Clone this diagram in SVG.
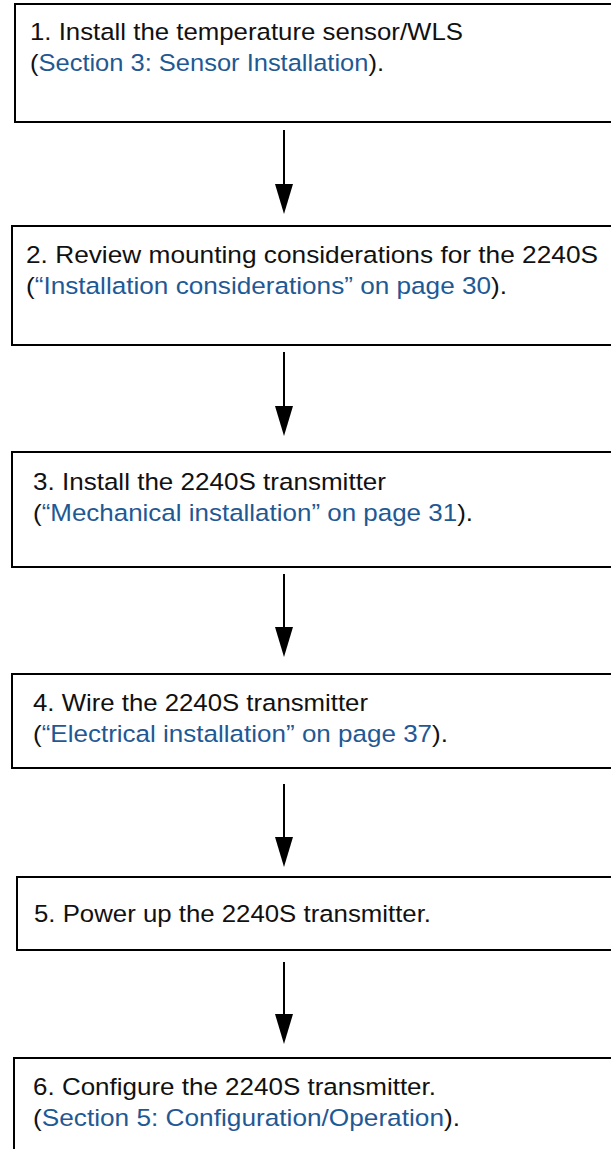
<svg xmlns="http://www.w3.org/2000/svg" width="611" height="1149" viewBox="0 0 611 1149">
<style>
.box{fill:#fff;stroke:#000;stroke-width:2}
.t{font-family:"Liberation Sans",Arial,sans-serif;font-size:24.5px;fill:#111}
.lk{fill:#1f5994}
.con{stroke:#000;stroke-width:2;fill:none}
.head{fill:#000}
</style>
<rect width="611" height="1149" fill="#fff"/>
<g id="connectors">
<line class="con" x1="284" y1="130" x2="284" y2="184"/><path class="head" d="M275 184 L293 184 L284 214 Z"/>
<line class="con" x1="284" y1="352" x2="284" y2="406"/><path class="head" d="M275 406 L293 406 L284 436 Z"/>
<line class="con" x1="284" y1="574" x2="284" y2="627"/><path class="head" d="M275 627 L293 627 L284 657 Z"/>
<line class="con" x1="284" y1="784" x2="284" y2="837"/><path class="head" d="M275 837 L293 837 L284 867 Z"/>
<line class="con" x1="284" y1="962" x2="284" y2="1014"/><path class="head" d="M275 1014 L293 1014 L284 1044 Z"/>
</g>
<g id="step1">
<rect class="box" x="15" y="4" width="610" height="118"/>
<text class="t" x="30" y="40" textLength="433" lengthAdjust="spacingAndGlyphs">1. Install the temperature sensor/WLS</text>
<text class="t" x="30" y="71" textLength="354" lengthAdjust="spacingAndGlyphs">(<tspan class="lk">Section 3: Sensor Installation</tspan>).</text>
</g>
<g id="step2">
<rect class="box" x="12" y="226" width="610" height="119"/>
<text class="t" x="26" y="263" textLength="572" lengthAdjust="spacingAndGlyphs">2. Review mounting considerations for the 2240S</text>
<text class="t" x="26" y="294" textLength="481" lengthAdjust="spacingAndGlyphs">(<tspan class="lk">“Installation considerations” on page 30</tspan>).</text>
</g>
<g id="step3">
<rect class="box" x="12" y="452" width="610" height="115"/>
<text class="t" x="33" y="490" textLength="353" lengthAdjust="spacingAndGlyphs">3. Install the 2240S transmitter</text>
<text class="t" x="33" y="521" textLength="440" lengthAdjust="spacingAndGlyphs">(<tspan class="lk">“Mechanical installation” on page 31</tspan>).</text>
</g>
<g id="step4">
<rect class="box" x="12" y="674" width="610" height="94"/>
<text class="t" x="33" y="711" textLength="335" lengthAdjust="spacingAndGlyphs">4. Wire the 2240S transmitter</text>
<text class="t" x="33" y="742" textLength="415" lengthAdjust="spacingAndGlyphs">(<tspan class="lk">“Electrical installation” on page 37</tspan>).</text>
</g>
<g id="step5">
<rect class="box" x="17" y="877" width="610" height="73"/>
<text class="t" x="34" y="922" textLength="397" lengthAdjust="spacingAndGlyphs">5. Power up the 2240S transmitter.</text>
</g>
<g id="step6">
<rect class="box" x="14" y="1058" width="610" height="110"/>
<text class="t" x="33" y="1095" textLength="403" lengthAdjust="spacingAndGlyphs">6. Configure the 2240S transmitter.</text>
<text class="t" x="33" y="1126" textLength="427" lengthAdjust="spacingAndGlyphs">(<tspan class="lk">Section 5: Configuration/Operation</tspan>).</text>
</g>
</svg>
